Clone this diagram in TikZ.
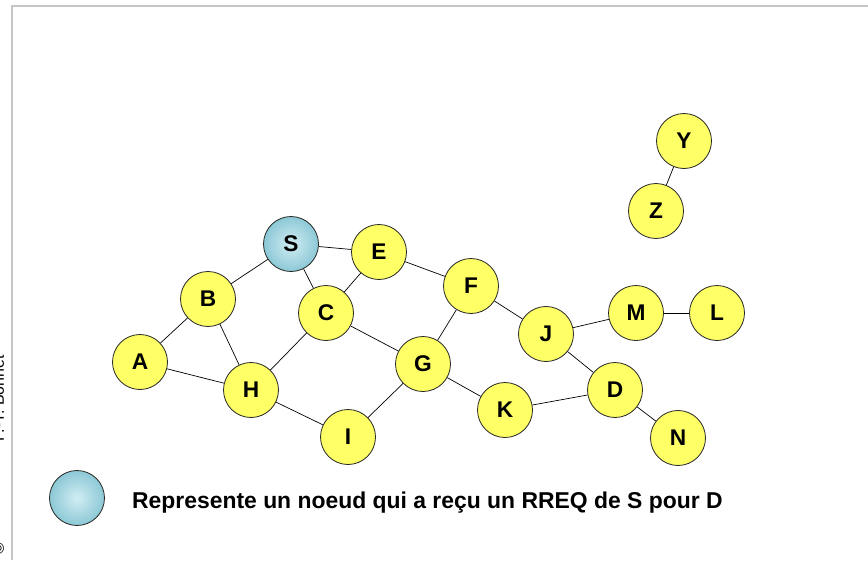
\documentclass[tikz,border=0pt]{standalone}
\usepackage{fontspec}
\setmainfont{Liberation Sans}
\usepackage{tikz}
\usetikzlibrary{
        automata,
        arrows,
        positioning,
        shapes
    }
\definecolor{jaune}{RGB}{255,255,102}
\definecolor{bleuclair}{RGB}{178,226,234}
\definecolor{bleufonce}{RGB}{140,200,214}
\tikzset{every state/.style={circle,draw=black!85,line width=0.8pt,
        minimum size=55pt,inner sep=0pt,fill=jaune,
        font=\fontsize{22.7}{26}\selectfont\bfseries}}
\tikzset{recu/.style={inner color=bleuclair!60,outer color=bleufonce}}

\begin{document}
\begin{tikzpicture}[x=1pt,y=-1pt,auto]
                \useasboundingbox (0,0) rectangle (868,560);
                % cadre
                \draw[gray!45,line width=1.5pt] (12,560) -- (12,6) -- (868,6);
                \node[rotate=90,anchor=base west,inner sep=0pt,
                      font=\fontsize{16}{18}\selectfont] (auteur) at (4,442) {P.-Y. Bonnet};
                \node[rotate=90,anchor=base west,inner sep=0pt,
                      font=\fontsize{16}{18}\selectfont] (copy) at (4,555) {\textcopyright};
                % noeuds
                \node[state,recu] (s) at (291,244) {S};
                \node[state] (e) at (379,252) {E};
                \node[state] (f) at (471,286) {F};
                \node[state] (b) at (208,299) {B};
                \node[state] (c) at (326,313) {C};
                \node[state] (j) at (546,334) {J};
                \node[state] (m) at (636,313) {M};
                \node[state] (l) at (717,313) {L};
                \node[state] (a) at (140,362) {A};
                \node[state] (g) at (423,364) {G};
                \node[state] (h) at (251,390) {H};
                \node[state] (d) at (615,390) {D};
                \node[state] (k) at (505,410) {K};
                \node[state] (i) at (348,437) {I};
                \node[state] (n) at (678,438) {N};
                \node[state] (y) at (684,141) {Y};
                \node[state] (z) at (656,211) {Z};
                \path[draw,line width=0.7pt]
                        (s) edge (b)
                        (s) edge (e)
                        (s) edge (c)
                        (a) edge (b)
                        (a) edge (h)
                        (b) edge (h)
                        (c) edge (e)
                        (c) edge (h)
                        (c) edge (g)
                        (e) edge (f)
                        (f) edge (g)
                        (f) edge (j)
                        (g) edge (i)
                        (g) edge (k)
                        (h) edge (i)
                        (j) edge (m)
                        (j) edge (d)
                        (m) edge (l)
                        (k) edge (d)
                        (d) edge (n)
                        (y) edge (z)
                ;
                % legende
                \node[state,recu] (leg) at (77,498) {};
                \node[anchor=west,inner sep=0pt,font=\fontsize{22.9}{26}\selectfont\bfseries]
                        (legtxt) at (132,503) {Represente un noeud qui a reçu un RREQ de S pour D};
\end{tikzpicture}
\end{document}
